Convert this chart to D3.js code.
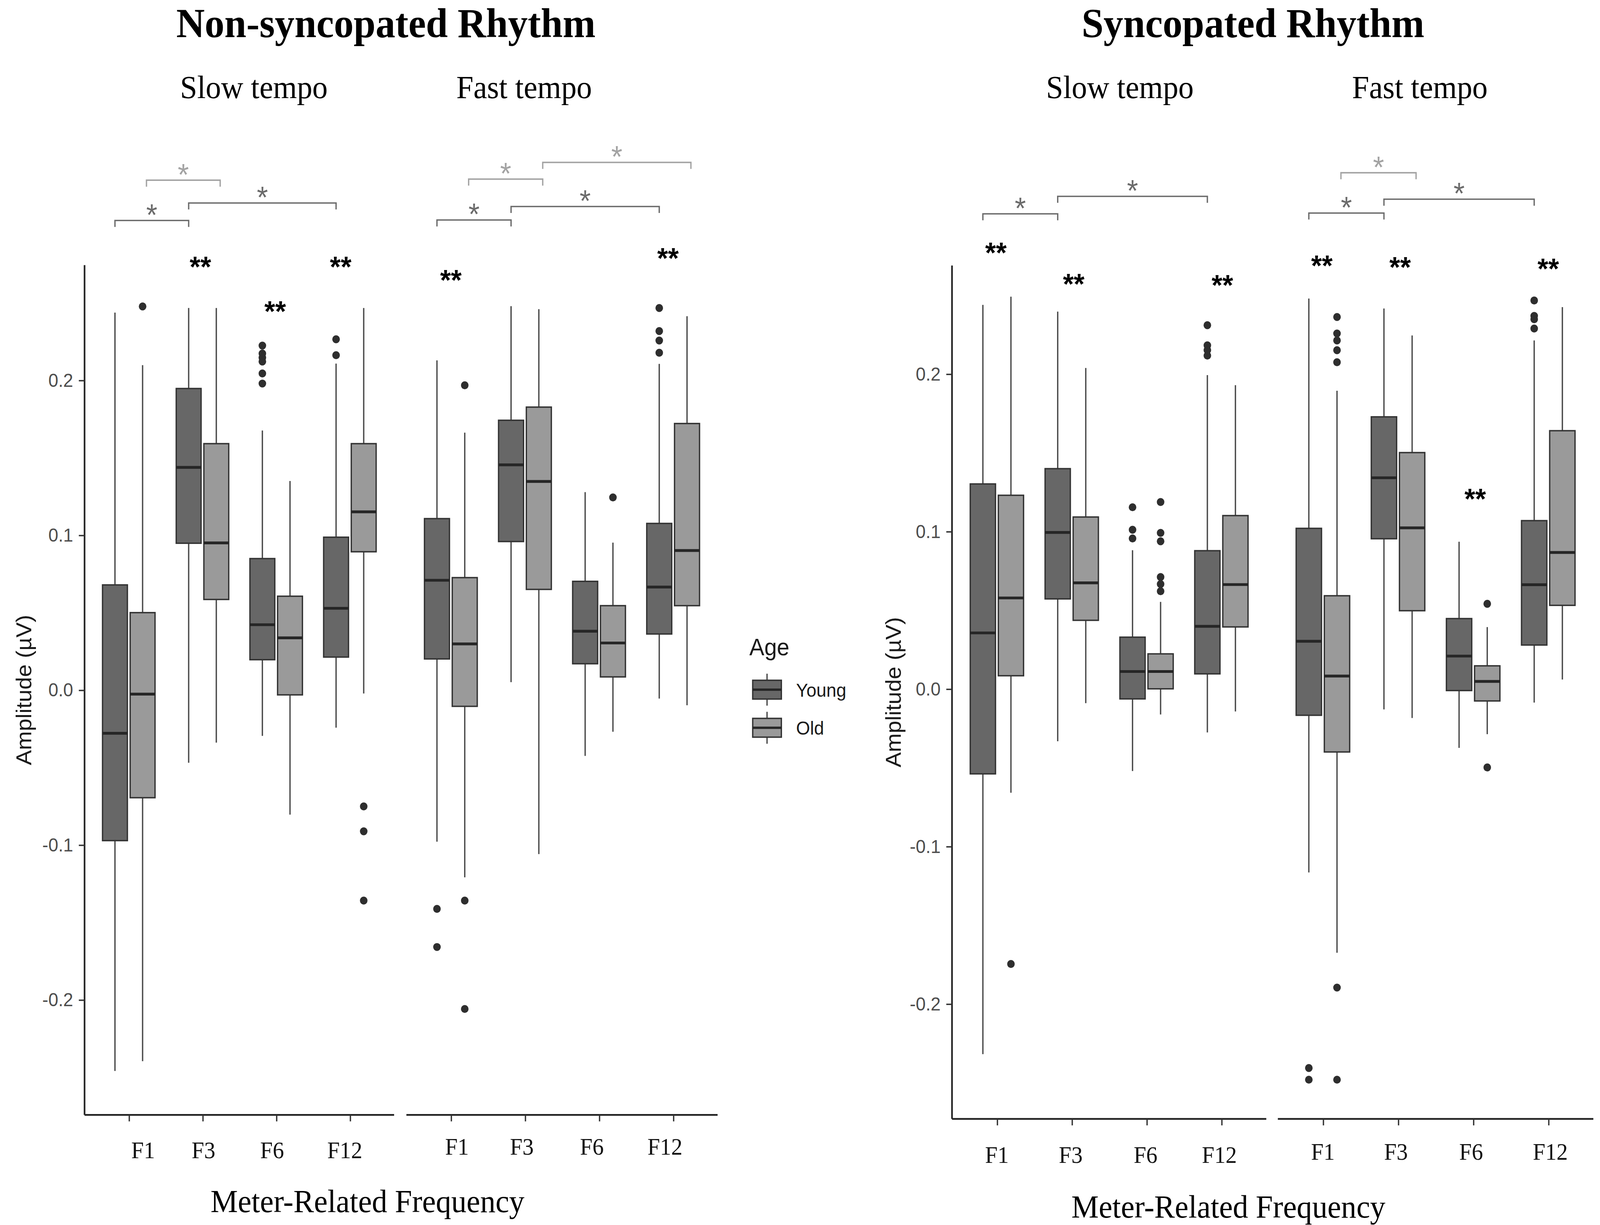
<!DOCTYPE html>
<html>
<head>
<meta charset="utf-8">
<script src="https://cdn.jsdelivr.net/npm/d3@7"></script>
<style>
  html, body { margin: 0; padding: 0; background: #fff; overflow: hidden; }
  #chart svg { display: block; width: 100vw; height: 100vh; }
</style>
</head>
<body>
<div id="chart"></div>
<script>
// ---------------------------- data ----------------------------
const frequencies = ["F1", "F3", "F6", "F12"];
const ageGroups = ["Young", "Old"];
const rhythmTitles = ["Non-syncopated Rhythm", "Syncopated Rhythm"];
const tempoTitles = ["Slow tempo", "Fast tempo"];
const yTickValues = [-0.2, -0.1, 0.0, 0.1, 0.2];

// [lower whisker, Q1, median, Q3, upper whisker] for F1, F3, F6, F12
const nonSyncSlowYoung = [[-0.246, -0.0973, -0.028, 0.0678, 0.2436], [-0.047, 0.0947, 0.1437, 0.1946, 0.2466], [-0.0297, 0.0195, 0.0421, 0.0848, 0.1675], [-0.0244, 0.0212, 0.0527, 0.0986, 0.2107]];
const nonSyncSlowOld   = [[-0.2397, -0.0696, -0.0027, 0.0499, 0.2097], [-0.034, 0.0584, 0.0949, 0.159, 0.2466], [-0.0805, -0.0032, 0.0336, 0.0605, 0.1349], [-0.0023, 0.0892, 0.115, 0.159, 0.2466]];
const nonSyncFastYoung = [[-0.098, 0.020, 0.0708, 0.1106, 0.2128], [0.005, 0.0958, 0.1453, 0.1741, 0.2478], [-0.0426, 0.0169, 0.0379, 0.0701, 0.1277], [-0.0056, 0.0361, 0.0664, 0.1075, 0.2105]];
const nonSyncFastOld   = [[-0.121, -0.0106, 0.0297, 0.0725, 0.1661], [-0.106, 0.0649, 0.1346, 0.1826, 0.2458], [-0.027, 0.0084, 0.0303, 0.0544, 0.0951], [-0.0099, 0.0544, 0.090, 0.172, 0.2413]];
const syncSlowYoung    = [[-0.232, -0.054, 0.0355, 0.1301, 0.2438], [-0.0333, 0.0571, 0.0993, 0.1398, 0.2395], [-0.0522, -0.0064, 0.011, 0.0328, 0.088], [-0.0277, 0.0095, 0.0397, 0.0877, 0.1992]];
const syncSlowOld      = [[-0.066, 0.0083, 0.0577, 0.1229, 0.249], [-0.0091, 0.0435, 0.0673, 0.1091, 0.2037], [-0.0163, 0.0, 0.011, 0.0222, 0.0552], [-0.0144, 0.0393, 0.0662, 0.110, 0.1928]];
const syncFastYoung    = [[-0.1166, -0.0168, 0.0302, 0.1019, 0.2478], [-0.0131, 0.0953, 0.134, 0.1727, 0.2415], [-0.0375, -0.0011, 0.0208, 0.0446, 0.0934], [-0.0087, 0.0278, 0.0661, 0.1068, 0.2212]];
const syncFastOld      = [[-0.1676, -0.0401, 0.0081, 0.0591, 0.1893], [-0.0185, 0.0496, 0.1022, 0.15, 0.2244], [-0.0288, -0.0077, 0.0047, 0.0146, 0.0392], [0.0059, 0.053, 0.0866, 0.1639, 0.2424]];

// outliers for F1, F3, F6, F12
const nonSyncSlowYoungOut = [[], [], [0.2223, 0.2172, 0.2145, 0.212, 0.2043, 0.1978], [0.2264, 0.2161]];
const nonSyncSlowOldOut   = [[0.2476], [], [], [-0.0752, -0.0913, -0.136]];
const nonSyncFastYoungOut = [[-0.1414, -0.166], [], [], [0.2466, 0.2317, 0.2256, 0.2177]];
const nonSyncFastOldOut   = [[0.1967, -0.136, -0.206], [], [0.1243], []];
const syncSlowYoungOut    = [[], [], [0.1153, 0.101, 0.0955], [0.2309, 0.2181, 0.2151, 0.2116]];
const syncSlowOldOut      = [[-0.1747], [], [0.1186, 0.099, 0.0937, 0.071, 0.0665, 0.062], []];
const syncFastYoungOut    = [[-0.2408, -0.2482], [], [], [0.2466, 0.2368, 0.2347, 0.2288]];
const syncFastOldOut      = [[0.2361, 0.2256, 0.2212, 0.215, 0.2074, -0.1897, -0.2482], [], [0.054, -0.0499], []];

// "**" age-difference marks: [rhythm, tempo, frequency, level]
const ageStars = [
  [0, 0, "F3", 0.2775], [0, 0, "F6", 0.2489], [0, 0, "F12", 0.2775],
  [0, 1, "F1", 0.2691], [0, 1, "F12", 0.2831],
  [1, 0, "F1", 0.2812], [1, 0, "F3", 0.2614], [1, 0, "F12", 0.2606],
  [1, 1, "F1", 0.2731], [1, 1, "F3", 0.2721], [1, 1, "F6", 0.1249], [1, 1, "F12", 0.2711]
];

// "*" frequency comparisons: [rhythm, tempo, from, to, age group, level]
const freqBrackets = [
  [0, 0, "F1", "F3", "Old", 0.3291], [0, 0, "F3", "F12", "Young", 0.3144], [0, 0, "F1", "F3", "Young", 0.3031],
  [0, 1, "F3", "F12", "Old", 0.3406], [0, 1, "F1", "F3", "Old", 0.3298], [0, 1, "F3", "F12", "Young", 0.3121], [0, 1, "F1", "F3", "Young", 0.3034],
  [1, 0, "F3", "F12", "Young", 0.3127], [1, 0, "F1", "F3", "Young", 0.3016],
  [1, 1, "F1", "F3", "Old", 0.3277], [1, 1, "F3", "F12", "Young", 0.3109], [1, 1, "F1", "F3", "Young", 0.3021]
];

const boxStats = [
  [{ Young: nonSyncSlowYoung, Old: nonSyncSlowOld }, { Young: nonSyncFastYoung, Old: nonSyncFastOld }],
  [{ Young: syncSlowYoung, Old: syncSlowOld }, { Young: syncFastYoung, Old: syncFastOld }]
];
const boxOutliers = [
  [{ Young: nonSyncSlowYoungOut, Old: nonSyncSlowOldOut }, { Young: nonSyncFastYoungOut, Old: nonSyncFastOldOut }],
  [{ Young: syncSlowYoungOut, Old: syncSlowOldOut }, { Young: syncFastYoungOut, Old: syncFastOldOut }]
];

// ---------------------------- layout ----------------------------
const W = 1563, H = 1135;
const fills = { Young: "#676767", Old: "#9a9a9a" };
const bracketTone = { Young: "#6b6b6b", Old: "#a3a3a3" };

const charts = [
  {
    axisX: 82.6, yRange: [1033, 245.6], yDomain: [-0.2744, 0.2743],
    panels: [[82.6, 385], [397, 701]],
    titleX: 377, subX: [248, 512], xTitleX: 359, xTitleY: 1123,
    labelY: [1073, 1070], labelNudge: [[14, 1, -4, -5], [6, -3, -7, -8]],
    starNudge: [[0, -2, -1, -9], [0, 0, 0, -5]],
    yTitleX: 30.4
  },
  {
    axisX: 930, yRange: [1036.7, 246], yDomain: [-0.2731, 0.2688],
    panels: [[930, 1237], [1248.3, 1556.5]],
    titleX: 1224, subX: [1094, 1387], xTitleX: 1200, xTitleY: 1128,
    labelY: [1077.4, 1074.5], labelNudge: [[0, -1, -1, -2], [0, -2, -2, 2]],
    starNudge: [[-1, 2, 0, 1], [-1, 2, 2, 0]],
    yTitleX: 880
  }
];

const svg = d3.select("#chart").append("svg")
  .attr("viewBox", `0 0 ${W} ${H}`)
  .attr("preserveAspectRatio", "none")
  .style("background", "#fff");

charts.forEach((c, ri) => {
  const g = svg.append("g");
  const y = d3.scaleLinear().domain(c.yDomain).range(c.yRange);

  // titles
  g.append("text")
    .attr("x", c.titleX).attr("y", 34.5)
    .attr("text-anchor", "middle")
    .style("font-family", "'Liberation Serif', 'Times New Roman', serif")
    .style("font-weight", "bold")
    .style("font-size", "38.5px")
    .text(rhythmTitles[ri]);

  // y axis
  const yAxis = g.append("g")
    .attr("transform", `translate(${c.axisX},0)`)
    .call(d3.axisLeft(y).tickValues(yTickValues).tickSize(5.6).tickPadding(5.5)
      .tickFormat(d => d3.format(".1f")(d).replace("−", "-")));
  yAxis.select(".domain").attr("stroke", "#222").attr("stroke-width", 1.6)
    .attr("d", `M0,${c.yRange[1]}V${c.yRange[0]}`);
  yAxis.selectAll(".tick line").attr("stroke", "#333").attr("stroke-width", 1.3);
  yAxis.selectAll(".tick text")
    .attr("fill", "#4d4d4d")
    .style("font-family", "'Liberation Sans', Arial, sans-serif")
    .style("font-size", "17.5px");

  g.append("text")
    .attr("transform", `translate(${c.yTitleX},${(c.yRange[0] + c.yRange[1]) / 2}) rotate(-90)`)
    .attr("text-anchor", "middle")
    .attr("fill", "#1a1a1a")
    .style("font-family", "'Liberation Sans', Arial, sans-serif")
    .style("font-size", "21px")
    .text("Amplitude (µV)");

  g.append("text")
    .attr("x", c.xTitleX).attr("y", c.xTitleY)
    .attr("text-anchor", "middle")
    .style("font-family", "'Liberation Serif', 'Times New Roman', serif")
    .style("font-size", "30px")
    .text("Meter-Related Frequency");

  c.panels.forEach((range, ti) => {
    const x = d3.scalePoint().domain(frequencies).range(range).padding(0.6);
    const step = x.step();
    const boxW = 0.3375 * step;
    const dodge = a => (ageGroups.indexOf(a) - 0.5) * 0.375 * step;
    const p = g.append("g");

    // subtitle
    p.append("text")
      .attr("x", c.subX[ti]).attr("y", 91)
      .attr("text-anchor", "middle")
      .style("font-family", "'Liberation Serif', 'Times New Roman', serif")
      .style("font-size", "30px")
      .text(tempoTitles[ti]);

    // x axis
    const baseY = c.yRange[0];
    const xAxis = p.append("g")
      .attr("transform", `translate(0,${baseY})`)
      .call(d3.axisBottom(x).tickSize(6).tickFormat(""));
    xAxis.select(".domain").attr("stroke", "#222").attr("stroke-width", 1.6)
      .attr("d", `M${range[0]},0H${range[1]}`);
    xAxis.selectAll(".tick line").attr("stroke", "#333").attr("stroke-width", 1.3);

    p.selectAll(".flabel")
      .data(frequencies)
      .join("text")
      .attr("class", "flabel")
      .attr("x", (d, i) => x(d) + c.labelNudge[ti][i])
      .attr("y", c.labelY[ti])
      .attr("text-anchor", "middle")
      .attr("fill", "#111")
      .style("font-family", "'Liberation Serif', 'Times New Roman', serif")
      .style("font-size", "22px")
      .text(d => d);

    // boxes
    const boxes = [];
    frequencies.forEach((f, fi) => {
      ageGroups.forEach(a => {
        const s = boxStats[ri][ti][a][fi];
        boxes.push({ f, a, cx: x(f) + dodge(a), lw: s[0], q1: s[1], med: s[2], q3: s[3], uw: s[4],
          out: boxOutliers[ri][ti][a][fi] });
      });
    });

    const bg = p.selectAll(".box").data(boxes).join("g").attr("class", "box");
    bg.append("line")
      .attr("x1", d => d.cx).attr("x2", d => d.cx)
      .attr("y1", d => y(d.uw)).attr("y2", d => y(d.q3))
      .attr("stroke", "#4a4a4a").attr("stroke-width", 1.3);
    bg.append("line")
      .attr("x1", d => d.cx).attr("x2", d => d.cx)
      .attr("y1", d => y(d.q1)).attr("y2", d => y(d.lw))
      .attr("stroke", "#4a4a4a").attr("stroke-width", 1.3);
    bg.append("rect")
      .attr("x", d => d.cx - boxW / 2)
      .attr("width", boxW)
      .attr("y", d => y(d.q3))
      .attr("height", d => y(d.q1) - y(d.q3))
      .attr("fill", d => fills[d.a])
      .attr("stroke", "#333").attr("stroke-width", 1.3);
    bg.append("line")
      .attr("x1", d => d.cx - boxW / 2).attr("x2", d => d.cx + boxW / 2)
      .attr("y1", d => y(d.med)).attr("y2", d => y(d.med))
      .attr("stroke", "#262626").attr("stroke-width", 2.6);
    bg.selectAll("circle")
      .data(d => d.out.map(v => ({ cx: d.cx, v })))
      .join("circle")
      .attr("cx", d => d.cx).attr("cy", d => y(d.v))
      .attr("r", 3.7)
      .attr("fill", "#2e2e2e");

    // ** marks
    p.selectAll(".stars2")
      .data(ageStars.filter(s => s[0] === ri && s[1] === ti))
      .join("text")
      .attr("class", "stars2")
      .attr("x", d => x(d[2]) + c.starNudge[ti][frequencies.indexOf(d[2])])
      .attr("y", d => y(d[3]) + 15.5)
      .attr("text-anchor", "middle")
      .attr("fill", "#000")
      .style("font-family", "'Liberation Sans', Arial, sans-serif")
      .style("font-weight", "bold")
      .style("font-size", "27px")
      .text("**");

    // brackets with *
    const brX = (f, a) => x(f) + (a === "Young" ? -0.1875 : 0.24) * step;
    const br = p.selectAll(".bracket")
      .data(freqBrackets.filter(b => b[0] === ri && b[1] === ti))
      .join("g").attr("class", "bracket");
    br.append("path")
      .attr("d", d => {
        const x1 = brX(d[2], d[4]), x2 = brX(d[3], d[4]), yy = y(d[5]);
        return `M${x1},${yy + 6}V${yy}H${x2}V${yy + 6}`;
      })
      .attr("fill", "none")
      .attr("stroke", d => bracketTone[d[4]])
      .attr("stroke-width", 1.3);
    br.append("text")
      .attr("x", d => (brX(d[2], d[4]) + brX(d[3], d[4])) / 2)
      .attr("y", d => y(d[5]) + 4.5)
      .attr("text-anchor", "middle")
      .attr("fill", d => bracketTone[d[4]])
      .style("font-family", "'Liberation Sans', Arial, sans-serif")
      .style("font-size", "28px")
      .text("*");
  });
});

// legend
const legend = svg.append("g");
legend.append("text")
  .attr("x", 732).attr("y", 607)
  .attr("fill", "#1a1a1a")
  .style("font-family", "'Liberation Sans', Arial, sans-serif")
  .style("font-size", "22px")
  .text("Age");
const keyY = d3.scalePoint().domain(ageGroups).range([639, 674.3]);
const key = legend.selectAll(".key").data(ageGroups).join("g").attr("class", "key")
  .attr("transform", d => `translate(749.3,${keyY(d)})`);
key.append("line").attr("y1", -14.8).attr("y2", 14.8)
  .attr("stroke", "#4a4a4a").attr("stroke-width", 1.3);
key.append("rect").attr("x", -14).attr("y", -8.7).attr("width", 28).attr("height", 17.4)
  .attr("fill", d => fills[d]).attr("stroke", "#333").attr("stroke-width", 1.3);
key.append("line").attr("x1", -14).attr("x2", 14)
  .attr("stroke", "#262626").attr("stroke-width", 2.2);
key.append("text")
  .attr("x", 28.4).attr("y", 6.5)
  .attr("fill", "#1a1a1a")
  .style("font-family", "'Liberation Sans', Arial, sans-serif")
  .style("font-size", "17.5px")
  .text(d => d);
</script>
</body>
</html>
